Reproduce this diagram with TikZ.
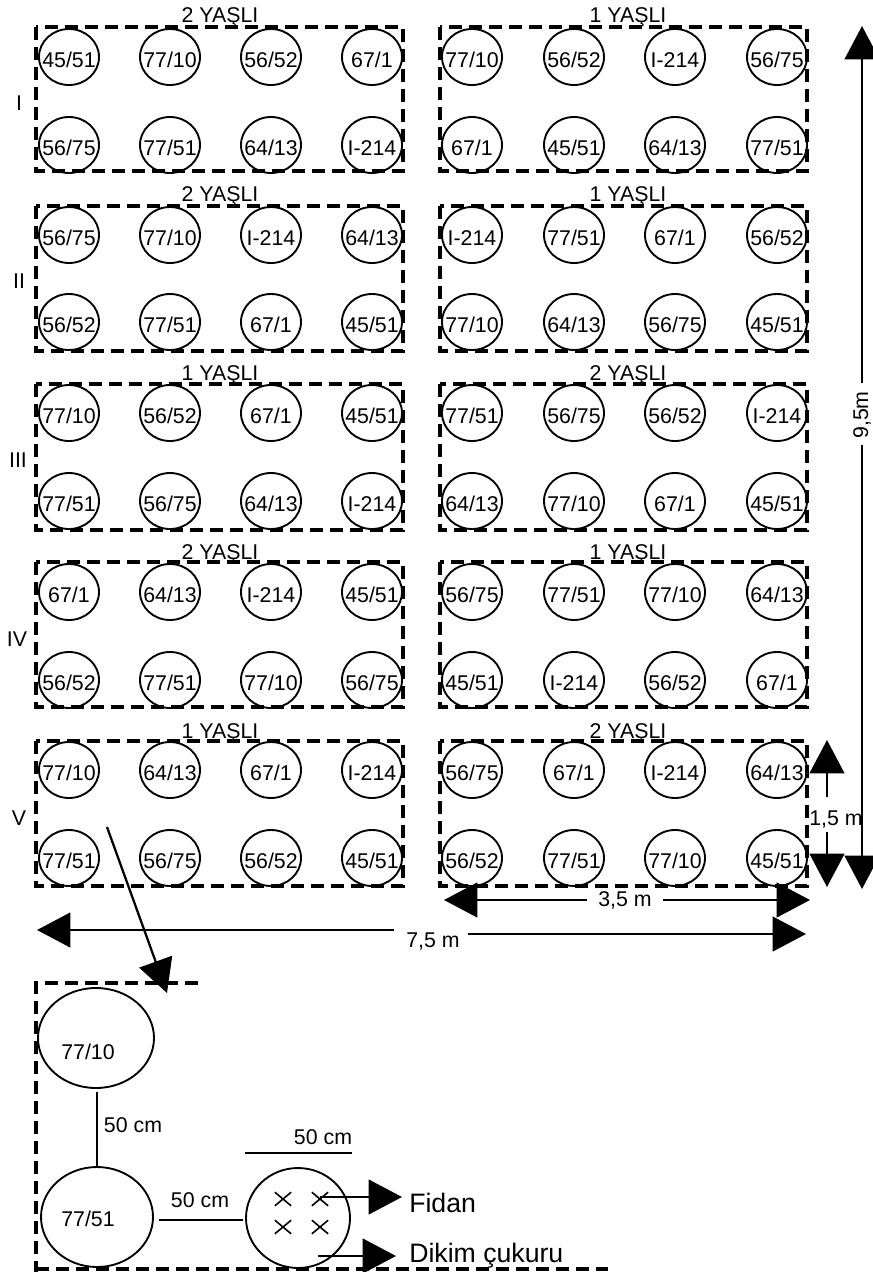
\documentclass[tikz,border=0pt]{standalone}
\usepackage{fontspec}
\setmainfont{Liberation Sans}
\usetikzlibrary{arrows.meta,shapes.geometric,shapes.misc}
\tikzset{
  cell/.style={draw,ellipse,line width=1.4pt,minimum width=45pt,minimum height=42pt,inner sep=0pt,font=\fontsize{16}{18}\selectfont},
  bigcirc/.style={draw,ellipse,line width=1.4pt,inner sep=0pt},
  plot/.style={line width=2.4pt,dash pattern=on 10pt off 5pt},
  txt/.style={inner sep=0pt,font=\fontsize{16}{18}\selectfont},
  title/.style={txt,anchor=base},
  bigtxt/.style={inner sep=0pt,anchor=base west,font=\fontsize{20}{24}\selectfont},
  thin line/.style={line width=1.5pt},
  dim/.style={line width=1.7pt,-{Triangle[length=25pt,width=26pt]}},
  pit/.style={draw,cross out,line width=1.2pt,minimum width=11pt,minimum height=9pt,inner sep=0pt}
}
\newcommand{\lbl}[1]{\raisebox{-8pt}[0pt][0pt]{\makebox[0pt]{#1}}}
\newcommand{\rowL}[6]{
  \node[cell] (#1a) at (69,#2) {\lbl{#3}};
  \node[cell] (#1b) at (170,#2) {\lbl{#4}};
  \node[cell] (#1c) at (271,#2) {\lbl{#5}};
  \node[cell] (#1d) at (372,#2) {\lbl{#6}};
}
\newcommand{\rowR}[6]{
  \node[cell] (#1a) at (472,#2) {\lbl{#3}};
  \node[cell] (#1b) at (574,#2) {\lbl{#4}};
  \node[cell] (#1c) at (675,#2) {\lbl{#5}};
  \node[cell] (#1d) at (777,#2) {\lbl{#6}};
}
\begin{document}
\begin{tikzpicture}[x=0.75pt,y=-0.75pt]
\useasboundingbox (0,0) rectangle (873,1272);
% plots
\draw[plot] (36,27) rectangle (403,171);
\draw[plot] (440,27) rectangle (807,171);
\draw[plot] (36,206) rectangle (403,351);
\draw[plot] (440,206) rectangle (807,351);
\draw[plot] (36,384) rectangle (403,530);
\draw[plot] (440,384) rectangle (807,530);
\draw[plot] (36,562) rectangle (403,707);
\draw[plot] (440,562) rectangle (807,707);
\draw[plot] (36,741) rectangle (403,886);
\draw[plot] (440,741) rectangle (807,886);
% titles
\node[title] (t1l) at (220,22) {2 YAŞLI};
\node[title] (t1r) at (628,22) {1 YAŞLI};
\node[title] (t2l) at (220,201) {2 YAŞLI};
\node[title] (t2r) at (628,201) {1 YAŞLI};
\node[title] (t3l) at (220,380) {1 YAŞLI};
\node[title] (t3r) at (628,380) {2 YAŞLI};
\node[title] (t4l) at (220,559) {2 YAŞLI};
\node[title] (t4r) at (628,559) {1 YAŞLI};
\node[title] (t5l) at (220,738) {1 YAŞLI};
\node[title] (t5r) at (628,738) {2 YAŞLI};
% block labels
\node[txt] (b1) at (19,103) {I};
\node[txt] (b2) at (19,281) {II};
\node[txt] (b3) at (18,460) {III};
\node[txt] (b4) at (17,639) {IV};
\node[txt] (b5) at (19,818) {V};
% rows
\rowL{la}{57}{45/51}{77/10}{56/52}{67/1}
\rowL{lb}{145}{56/75}{77/51}{64/13}{I-214}
\rowR{ra}{57}{77/10}{56/52}{I-214}{56/75}
\rowR{rb}{145}{67/1}{45/51}{64/13}{77/51}
\rowL{lc}{235}{56/75}{77/10}{I-214}{64/13}
\rowL{ld}{322}{56/52}{77/51}{67/1}{45/51}
\rowR{rc}{235}{I-214}{77/51}{67/1}{56/52}
\rowR{rd}{322}{77/10}{64/13}{56/75}{45/51}
\rowL{le}{413}{77/10}{56/52}{67/1}{45/51}
\rowL{lf}{501}{77/51}{56/75}{64/13}{I-214}
\rowR{re}{413}{77/51}{56/75}{56/52}{I-214}
\rowR{rf}{501}{64/13}{77/10}{67/1}{45/51}
\rowL{lg}{592}{67/1}{64/13}{I-214}{45/51}
\rowL{lh}{680}{56/52}{77/51}{77/10}{56/75}
\rowR{rg}{592}{56/75}{77/51}{77/10}{64/13}
\rowR{rh}{680}{45/51}{I-214}{56/52}{67/1}
\rowL{li}{770}{77/10}{64/13}{67/1}{I-214}
\rowL{lj}{858}{77/51}{56/75}{56/52}{45/51}
\rowR{ri}{770}{56/75}{67/1}{I-214}{64/13}
\rowR{rj}{858}{56/52}{77/51}{77/10}{45/51}
% 9,5 m
\node[txt,rotate=90] (h95) at (862,415) {9,5m};
\coordinate (h95a) at (862,383);
\coordinate (h95b) at (862,445);
\coordinate (h95t) at (862,26);
\coordinate (h95e) at (862,889);
\draw[dim] (h95a) -- (h95t);
\draw[dim] (h95b) -- (h95e);
% 1,5 m
\node[txt,anchor=base] (h15) at (836,825) {1,5 m};
\coordinate (h15a) at (827,797);
\coordinate (h15b) at (827,832);
\coordinate (h15t) at (827,740);
\coordinate (h15e) at (827,887);
\draw[dim] (h15a) -- (h15t);
\draw[dim] (h15b) -- (h15e);
% 3,5 m
\node[txt,anchor=base] (w35) at (625,906) {3,5 m};
\coordinate (w35a) at (587,900);
\coordinate (w35b) at (663,900);
\coordinate (w35l) at (444,900);
\coordinate (w35r) at (810,900);
\draw[dim] (w35a) -- (w35l);
\draw[dim] (w35b) -- (w35r);
% 7,5 m
\node[txt,anchor=base] (w75) at (433,947) {7,5 m};
\coordinate (w75a) at (394,930);
\coordinate (w75b) at (468,934);
\coordinate (w75l) at (37,930);
\coordinate (w75r) at (806,934);
\draw[dim] (w75a) -- (w75l);
\draw[dim] (w75b) -- (w75r);
% detail pointer
\coordinate (zs) at (107,827);
\coordinate (ze) at (167,993);
\draw[dim] (zs) -- (ze);
% detail frame
\draw[plot] (198,983) -- (36,983) -- (36,1272);
\draw[plot] (36,1269) -- (608,1269);
\node[bigcirc,minimum width=87pt,minimum height=75pt] (d1) at (96,1038) {};
\node[bigcirc,minimum width=84pt,minimum height=75pt] (d2) at (97,1217) {};
\node[bigcirc,minimum width=78pt,minimum height=75pt] (d3) at (298,1218) {};
\node[txt,anchor=base] (d1t) at (88,1059) {77/10};
\node[txt,anchor=base] (d2t) at (88,1226) {77/51};
\coordinate (v1) at (97,1092);
\draw[thin line] (v1) -- (d2.north);
\node[txt,anchor=base] (v1t) at (133,1132) {50 cm};
\coordinate (h1) at (159,1220);
\coordinate (h2) at (243,1220);
\draw[thin line] (h1) -- (h2);
\node[txt,anchor=base] (h1t) at (200,1207) {50 cm};
\coordinate (o1) at (245,1153);
\coordinate (o2) at (352,1153);
\draw[thin line] (o1) -- (o2);
\node[txt,anchor=base] (o1t) at (323,1144) {50 cm};
\node[pit] (x1) at (283,1199) {};
\node[pit] (x2) at (320,1199) {};
\node[pit] (x3) at (283,1227) {};
\node[pit] (x4) at (320,1227) {};
\node[bigtxt] (fidan) at (409,1212) {Fidan};
\node[bigtxt] (dikim) at (409,1262) {Dikim çukuru};
\coordinate (fs) at (320,1197);
\coordinate (fe) at (402,1197);
\coordinate (de) at (396,1256);
\coordinate (ds) at (318,1256);
\draw[dim] (fs) -- (fe);
\draw[dim] (ds) -- (de);
\end{tikzpicture}
\end{document}
